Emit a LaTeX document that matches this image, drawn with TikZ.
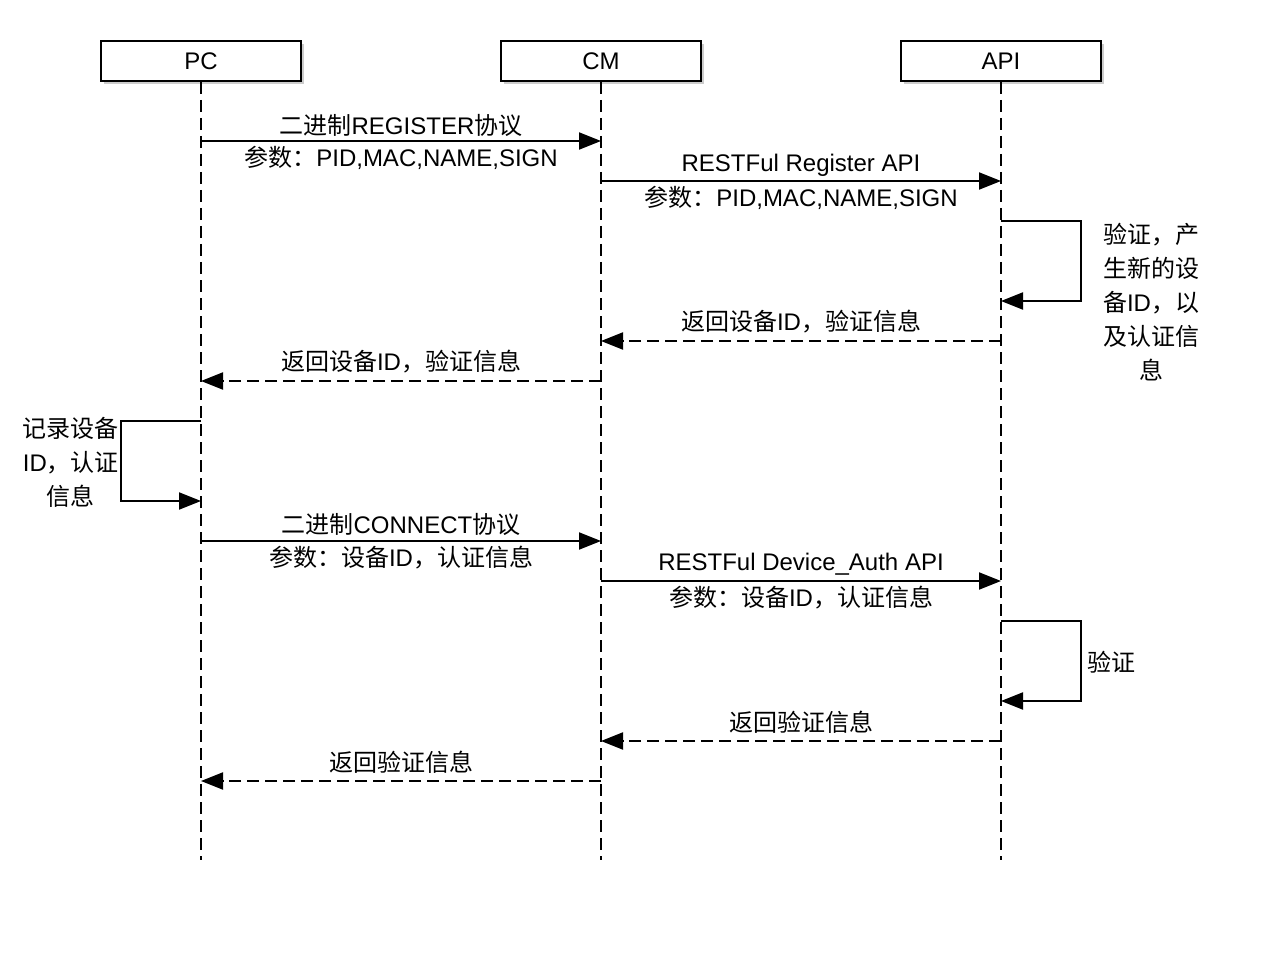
\documentclass[tikz,border=0pt]{standalone}
\usepackage{fontspec}
\setmainfont{Liberation Sans}
\newfontfamily\cjk{Noto Sans CJK SC}
\newcommand{\zh}[1]{{\cjk #1}}
\usetikzlibrary{arrows.meta,shadows}
\begin{document}
\begin{tikzpicture}[x=1pt,y=-1pt,
  actor/.style={draw,line width=2pt,fill=white,minimum width=200pt,minimum height=40pt,inner sep=0pt,
     font=\fontsize{24}{28}\selectfont,
     drop shadow={shadow xshift=3pt,shadow yshift=-3pt,fill=black,opacity=0.2}},
  life/.style={line width=2pt,dash pattern=on 12pt off 6pt},
  msg/.style={line width=2pt,-{Triangle[length=22pt,width=17pt]}},
  ret/.style={msg,dash pattern=on 12pt off 6pt},
  lbl/.style={font=\fontsize{24}{34}\selectfont,inner sep=0pt,align=center}]
\useasboundingbox (0,0) rectangle (1280,960);
% actors
\node[actor] (pc) at (201,61) {PC};
\node[actor] (cm) at (601,61) {CM};
\node[actor] (api) at (1001,61) {API};
% lifeline ends
\coordinate (pcE) at (201,860);
\coordinate (cmE) at (601,860);
\coordinate (apiE) at (1001,860);
\draw[life] (pc.south) -- (pcE);
\draw[life] (cm.south) -- (cmE);
\draw[life] (api.south) -- (apiE);
% message points
\coordinate (p1) at (201,141); \coordinate (c1) at (601,141);
\coordinate (c2) at (601,181); \coordinate (a2) at (1001,181);
\coordinate (a3) at (1001,221); \coordinate (a3b) at (1001,301);
\coordinate (a4) at (1001,341); \coordinate (c4) at (601,341);
\coordinate (c5) at (601,381); \coordinate (p5) at (201,381);
\coordinate (p6) at (201,421); \coordinate (p6b) at (201,501);
\coordinate (p7) at (201,541); \coordinate (c7) at (601,541);
\coordinate (c8) at (601,581); \coordinate (a8) at (1001,581);
\coordinate (a9) at (1001,621); \coordinate (a9b) at (1001,701);
\coordinate (a10) at (1001,741); \coordinate (c10) at (601,741);
\coordinate (c11) at (601,781); \coordinate (p11) at (201,781);
% 1
\draw[msg] (p1) -- (c1);
\node[lbl] (m1a) at (401,125) {\zh{二进制}REGISTER\zh{协议}};
\node[lbl] (m1b) at (401,158) {\zh{参数：}PID,MAC,NAME,SIGN};
% 2
\draw[msg] (c2) -- (a2);
\node[lbl] (m2a) at (801,165) {RESTFul Register API};
\node[lbl] (m2b) at (801,198) {\zh{参数：}PID,MAC,NAME,SIGN};
% 3
\draw[msg] (a3) -- ++(80,0) |- (a3b);
\node[lbl] (m3) at (1151,302) {\zh{验证，产}\\\zh{生新的设}\\\zh{备}ID\zh{，以}\\\zh{及认证信}\\\zh{息}};
% 4
\draw[ret] (a4) -- (c4);
\node[lbl] (m4) at (801,322) {\zh{返回设备}ID\zh{，验证信息}};
% 5
\draw[ret] (c5) -- (p5);
\node[lbl] (m5) at (401,362) {\zh{返回设备}ID\zh{，验证信息}};
% 6
\draw[msg] (p6) -- ++(-80,0) |- (p6b);
\node[lbl] (m6) at (71,462) {\zh{记录设备}\\ID\zh{，认证}\\\zh{信息}};
% 7
\draw[msg] (p7) -- (c7);
\node[lbl] (m7a) at (401,524) {\zh{二进制}CONNECT\zh{协议}};
\node[lbl] (m7b) at (401,558) {\zh{参数：设备}ID\zh{，认证信息}};
% 8
\draw[msg] (c8) -- (a8);
\node[lbl] (m8a) at (801,564) {RESTFul Device\_Auth API};
\node[lbl] (m8b) at (801,598) {\zh{参数：设备}ID\zh{，认证信息}};
% 9
\draw[msg] (a9) -- ++(80,0) |- (a9b);
\node[lbl] (m9) at (1111,662) {\zh{验证}};
% 10
\draw[ret] (a10) -- (c10);
\node[lbl] (m10) at (801,722) {\zh{返回验证信息}};
% 11
\draw[ret] (c11) -- (p11);
\node[lbl] (m11) at (401,762) {\zh{返回验证信息}};
\end{tikzpicture}
\end{document}
